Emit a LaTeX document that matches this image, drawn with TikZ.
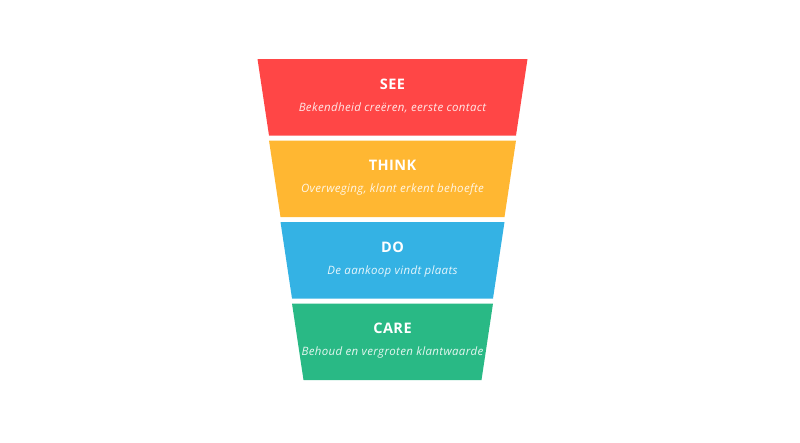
\documentclass[tikz,border=0pt]{standalone}
\usepackage{fontspec}
\setmainfont[LetterSpace=3]{Open Sans}
\usetikzlibrary{positioning}

\definecolor{seered}{HTML}{FF4646}
\definecolor{thinkyellow}{HTML}{FFB732}
\definecolor{doblue}{HTML}{34B2E4}
\definecolor{caregreen}{HTML}{29B985}

\begin{document}
\begin{tikzpicture}[x=1pt, y=-1pt,
    stage/.style={text=white, anchor=base, font=\bfseries\fontsize{14.5}{16}\selectfont},
    stagetext/.style={text=white, opacity=0.88, anchor=base, font=\itshape\fontsize{11.5}{13}\selectfont}]
  \useasboundingbox (0,0) rectangle (800,442);
  % funnel bands
  \fill[seered]      (257.5,59)    -- (527.5,59)    -- (516,135.5) -- (269,135.5) -- cycle;
  \fill[thinkyellow] (269,140.5)   -- (516,140.5)   -- (504.5,217) -- (280.5,217) -- cycle;
  \fill[doblue]      (280.5,222)   -- (504.5,222)   -- (493,298.5) -- (292,298.5) -- cycle;
  \fill[caregreen]   (292,303.5)   -- (493,303.5)   -- (481.5,380) -- (303.5,380) -- cycle;
  % labels
  \node (see)      [stage]     at (392.5,89)  {SEE};
  \node (seetxt)   [stagetext] at (392.5,111) {Bekendheid creëren, eerste contact};
  \node (think)    [stage]     at (392.5,170.5) {THINK};
  \node (thinktxt) [stagetext] at (392.5,192.5) {Overweging, klant erkent behoefte};
  \node (do)       [stage]     at (392.5,252) {DO};
  \node (dotxt)    [stagetext] at (392.5,274) {De aankoop vindt plaats};
  \node (care)     [stage]     at (392.5,333.5) {CARE};
  \node (caretxt)  [stagetext] at (392.5,355.5) {Behoud en vergroten klantwaarde};
\end{tikzpicture}
\end{document}
